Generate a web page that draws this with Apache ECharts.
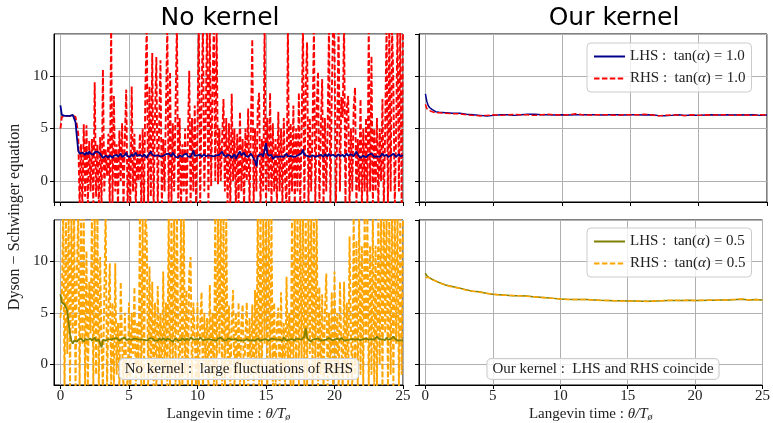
<!DOCTYPE html>
<html><head><meta charset="utf-8">
<script src="https://cdn.jsdelivr.net/npm/echarts@6/dist/echarts.min.js"></script>
<style>html,body{margin:0;padding:0;background:#fff}#c{width:773px;height:423px}</style>
</head><body><div id="c"></div>
<script>
// ---- DATA ----
const titles = ['No kernel', 'Our kernel'];
const yLabel = 'Dyson \u2212 Schwinger equation';
const xTicks = [0, 5, 10, 15, 20, 25];
const yTicks = [0, 5, 10];
// Left panels: Langevin time grid, step 0.1 from 0 to 25
const timeL = Array.from({length: 251}, (_, i) => +(i * 0.1).toFixed(1));
const lhsNoKernel10 = [
7.2,6.3,6.2,6.2,6.15,6.2,6.2,6.2,6.25,6.3,
6.2,5.6,4.2,2.9,2.6,2.55,2.7,2.6,2.5,2.75,
2.55,2.8,2.6,2.7,2.5,2.75,2.6,2.8,2.65,2.6,
2.55,2.2,2.35,2.4,2.25,2.2,2.45,2.3,2.2,2.4,
2.3,2.5,2.3,2.4,2.6,2.3,2.2,2.45,2.7,2.35,
2.4,2.3,2.55,2.35,2.5,2.7,2.4,2.3,2.5,2.35,
2.3,2.55,2.4,2.2,2.45,2.35,2.8,2.5,2.35,2.4,
2.3,2.45,2.6,2.35,2.2,2.4,2.3,2.55,2.4,2.6,
2.45,2.35,2.7,2.5,2.3,2.4,2.25,2.45,2.35,2.3,
2.5,2.4,2.6,2.35,2.45,2.3,2.55,2.9,2.4,2.3,
2.45,2.35,2.5,2.3,2.4,2.55,2.35,2.3,2.45,2.6,
2.4,2.3,2.35,2.5,2.45,2.3,2.5,2.4,2.8,2.5,
2.45,2.3,2.5,2.35,2.4,2.2,2.3,2.55,2.1,2.4,
2.5,2.8,2.45,2.6,2.7,2.4,2.5,2.3,2.45,2.6,
2.4,2.35,1.9,1.4,2.3,2.5,2.4,2.55,2.3,2.45,
3.6,2.6,2.4,2.3,2.5,2.1,2.0,2.35,2.4,2.3,
2.45,2.35,2.5,2.3,2.4,2.6,2.35,2.2,2.4,2.55,
2.3,2.45,2.35,2.2,2.5,2.4,2.65,3.0,2.5,2.6,
2.4,2.5,2.3,2.35,2.45,2.6,2.3,2.2,2.4,2.35,
2.5,2.45,2.3,2.55,2.4,2.35,2.6,2.4,2.3,2.5,
2.45,2.3,2.4,2.55,2.35,2.4,2.5,2.3,2.45,2.6,
2.4,2.3,2.55,2.45,2.35,2.6,2.8,2.5,2.35,2.2,
2.3,2.4,2.35,2.25,2.4,2.5,2.35,2.6,2.45,2.3,
2.4,2.35,2.5,2.3,2.45,2.6,2.4,2.35,2.5,2.3,
2.45,2.4,2.35,2.6,2.5,2.3,2.45,2.55,2.35,2.4,
2.45];
const rhsNoKernel10 = [
5.0,6.1,6.0,6.2,6.1,6.2,6.1,6.2,6.1,6.2,
6.2,6.1,6.0,4.5,-2.5,3.5,-2.5,5.4,-1.5,5.3,
-2.5,3.8,-1,4.0,-2.5,9.4,-1.5,3.5,-2.5,4.2,
-2.5,10.6,-1,3.0,0.5,4.5,-2.5,15,-2.5,8.1,
-1,3.5,-2.5,4.8,0,5.5,-2.5,4.0,8.7,-2.5,
2.5,-2.5,9.0,-1,4.5,-2.5,3.0,0,4.5,-2.5,
5.0,-2.5,8.7,15,-2.5,9.0,-1.5,12.2,-2.5,6.0,
11.8,-2.5,5.0,11.5,-2.5,4.0,-1,7.0,15,-2.5,
10.4,-2.5,5.5,-1,7.0,15,-2.5,6.0,-2.5,3.5,
-1,5.0,-2.5,4.0,10.5,-2.5,6.0,-1,7.2,-2.5,
5.0,15,-2.5,8.0,15,-1,6.0,15,-2.5,15,
-0.5,9.0,15,0,15,-0.3,5.0,0,4.0,7.8,
-1,6.0,-2.5,5.5,-2.5,8.3,0,5.0,-2.5,4.5,
-2.5,6.6,-1,4.0,-2.5,5.0,0,6.9,-2.5,5.0,
13.5,-2.5,5.0,-1,7.0,8.4,-2.5,4.0,-1,15,
-2.5,6.0,-1,8.4,-2.5,5.5,-1,4.0,-2.5,6.6,
-1,5.0,-2.5,6.0,0,-2.5,15,-2.5,5.5,-1,
7.2,-2.5,5.0,-1,8.4,-2.5,5.0,15,-2.5,9.0,
13.2,-2.5,6.0,-1,5.0,15,-2.5,7.0,10.4,-2.5,
5.0,9.7,-2.5,6.0,-1,5.0,15,-2.5,8.0,15,
13.5,-2.5,5.0,15,-1,8.0,6.0,15,-2.5,7.0,
8.1,-2.5,5.0,-1,7.0,8.9,-2.5,4.0,-1,7.8,
-2.5,5.0,-1,6.0,-2.5,15,-1,11.9,-2.5,5.0,
-1,6.0,-2.5,5.0,0,7.8,-2.5,5.0,15,-2.5,
15,-1,15,9.0,-2.5,5.0,15,-1,15,-2.5,
15];
const lhsNoKernel05 = [
6.8,6.0,5.9,5.8,5.8,5.2,4.0,2.9,2.3,2.0,
2.3,2.45,2.2,2.4,2.3,2.5,2.35,2.2,2.45,2.3,
2.4,2.25,2.5,2.3,2.45,2.6,2.3,2.2,2.4,2.35,
1.65,2.4,2.5,2.3,2.35,2.45,2.6,2.4,2.3,2.5,
2.35,2.55,2.4,2.3,2.45,2.5,2.4,2.6,2.35,2.3,
2.45,2.55,2.4,2.3,2.5,2.35,2.45,2.6,2.4,2.3,
2.4,2.5,2.35,2.45,2.3,2.55,2.4,2.5,2.35,2.3,
2.45,2.3,2.5,2.4,2.35,2.55,2.4,2.3,2.5,2.35,
2.4,2.3,2.2,2.35,2.5,2.4,2.3,2.45,2.35,2.55,
2.4,2.3,2.5,2.45,2.35,2.6,2.5,2.4,2.3,2.45,
2.5,2.4,2.6,2.45,2.35,2.5,2.4,2.3,2.45,2.55,
2.4,2.5,2.35,2.45,2.3,2.5,2.4,2.6,2.45,2.35,
2.4,2.3,2.5,2.35,2.45,2.6,2.4,2.3,2.45,2.35,
2.3,2.2,2.35,2.4,2.3,2.25,2.45,2.35,2.3,2.4,
2.35,2.45,2.3,2.4,2.5,2.35,2.3,2.45,2.4,2.3,
2.45,2.35,2.3,2.4,2.5,2.35,2.45,2.6,2.4,2.3,
2.4,2.35,2.3,2.6,2.45,2.3,2.2,2.4,2.35,2.45,
2.4,2.3,2.5,2.35,2.45,2.6,2.4,2.55,2.7,3.5,
2.6,2.4,2.35,2.2,2.4,2.3,2.45,2.35,2.5,2.4,
2.3,2.45,2.35,2.5,2.4,2.3,2.55,2.4,2.35,2.45,
2.4,2.3,2.5,2.4,2.35,2.6,2.45,2.3,2.4,2.35,
2.5,2.4,2.3,2.45,2.35,2.4,2.3,2.45,2.5,2.35,
2.4,2.45,2.3,2.5,2.35,2.4,2.3,2.45,2.6,2.4,
2.5,2.7,2.55,2.4,2.3,2.45,2.5,2.35,2.6,2.4,
2.35,2.45,2.6,2.7,2.5,2.4,2.3,2.45,2.35,2.2,
2.3];
const rhsNoKernel05 = [
4.5,6.0,15,-2.5,15,1,15,-2.5,15,3,
15,-2.5,9,15,-2.5,15,2,15,-2.5,11,
-2.5,8,3,15,-2.5,15,-1,15,-2.5,10.4,
2,-2.5,7,15,-2.5,5,9.8,-2,6,-2.5,
9.8,-1,4,-2.5,8.0,2,-2.5,5,0,-2.5,
6,-2.5,5,1,7.5,-2.5,4,-1,15,-2.5,
15,-2.5,15,12.4,-2.5,9.5,-1,8,-2.5,6,
-2.5,7.6,0,5,-2.5,9,-1,6,-2.5,15,
-2.5,15,-1,15,-2.5,15,2,-2.5,15,-2.5,
15,-1,7.2,-2.5,9,10.4,-2.5,6,3,-2.5,
6,-2.5,4,7,-2.5,5,0,4.5,-2.5,7.7,
-1,5,-2.5,15,-2.5,15,1,15,-2.5,15,
-2.5,15,-1,5.7,-2.5,4,7.2,-2.5,5,-1,
6,-2.5,4,5.8,-2.5,3,6,-2.5,4.5,-1,
5.8,-2.5,7.2,-1,15,-2.5,15,-2.5,15,2,
15,-2.5,15,-1,15,-2.5,6,-2.5,4,5.5,
-2.5,7.0,-1,4,-2.5,8.5,0,5,-2.5,15,
-2.5,15,-1,15,-2.5,15,0,15,-2.5,15,
-2.5,15,1,15,-2.5,15,-1,15,-2.5,7.5,
-1,6.8,-2.5,5,8.8,-2.5,5,-1,7,-2.5,
9,-1,5,-2.5,8.0,2,-2.5,8,-1,6,
-2.5,12.4,3,-2.5,15,-1,12,-2.5,15,-1,
11.5,-2.5,15,2,15,-2.5,11.5,-1,15,-2.5,
11.5,-2.5,15,0,15,-2.5,15,3,15,-2.5,
15,-1,15,-2.5,15,2,15,-2.5,15,-1,
15];
// Right panels: Langevin time samples
const timeR = [0,0.1,0.2,0.3,0.5,0.75,1,1.5,2,2.5,3,3.5,4,4.5,5,5.5,6,6.5,7,7.5,8,8.5,9,9.5,10,10.5,11,11.5,12,12.5,13,13.5,14,14.5,15,15.5,16,16.5,17,17.5,18,18.5,19,19.5,20,20.5,21,21.5,22,22.5,23,23.5,24,24.5,25];
const lhsKernel10 = [8.3,7.6,7.2,7.0,6.8,6.6,6.55,6.5,6.45,6.45,6.35,6.3,6.25,6.2,6.25,6.3,6.3,6.25,6.3,6.35,6.35,6.3,6.3,6.28,6.3,6.28,6.3,6.3,6.32,6.3,6.28,6.3,6.3,6.28,6.3,6.3,6.28,6.3,6.25,6.22,6.25,6.3,6.25,6.28,6.25,6.28,6.3,6.28,6.3,6.28,6.3,6.28,6.3,6.25,6.28];
const rhsKernel10 = [7.3,6.9,6.8,6.7,6.6,6.5,6.5,6.45,6.4,6.4,6.3,6.25,6.2,6.25,6.3,6.25,6.3,6.35,6.3,6.3,6.25,6.3,6.35,6.3,6.28,6.3,6.4,6.3,6.28,6.3,6.32,6.3,6.25,6.3,6.32,6.3,6.35,6.3,6.2,6.25,6.3,6.28,6.22,6.3,6.25,6.3,6.28,6.3,6.32,6.25,6.3,6.28,6.25,6.3,6.28];
const lhsKernel05 = [8.85,8.6,8.5,8.4,8.25,8.1,7.95,7.7,7.55,7.4,7.25,7.1,7.05,6.9,6.8,6.75,6.7,6.65,6.65,6.62,6.55,6.5,6.45,6.4,6.35,6.32,6.3,6.3,6.28,6.25,6.22,6.2,6.18,6.17,6.15,6.15,6.13,6.12,6.15,6.17,6.2,6.2,6.2,6.22,6.2,6.2,6.22,6.22,6.25,6.25,6.28,6.32,6.25,6.28,6.25];
const rhsKernel05 = [8.4,8.55,8.45,8.4,8.2,8.1,7.9,7.7,7.5,7.4,7.2,7.1,7.0,6.9,6.8,6.72,6.7,6.68,6.65,6.6,6.55,6.5,6.45,6.4,6.35,6.3,6.3,6.28,6.28,6.25,6.2,6.2,6.18,6.15,6.15,6.13,6.15,6.1,6.15,6.18,6.2,6.22,6.2,6.22,6.2,6.22,6.22,6.25,6.22,6.28,6.3,6.35,6.25,6.28,6.25];
const legendNames = ['LHS :  tan(\u03b1) = 1.0', 'RHS :  tan(\u03b1) = 1.0', 'LHS :  tan(\u03b1) = 0.5', 'RHS :  tan(\u03b1) = 0.5'];
const notes = ['No kernel :  large fluctuations of RHS', 'Our kernel :  LHS and RHS coincide'];

// ---- CHART ----
const SERIF = 'Liberation Serif';
const zip = (xs, ys) => xs.map((x, i) => [x, ys[i]]);
const grids = [
  {left: 54, top: 34, width: 349, height: 168},
  {left: 419, top: 34, width: 348, height: 168},
  {left: 54, top: 220, width: 349, height: 168},
  {left: 419, top: 220, width: 348, height: 168}
];
const xAxes = grids.map((g, i) => ({
  type: 'value', gridIndex: i, min: -0.47, max: 25, splitNumber: 5,
  axisLine: {show: true, onZero: false, lineStyle: {color: '#000', width: 1}},
  axisTick: {show: true, inside: false, length: 4, lineStyle: {color: '#000'}},
  axisLabel: {show: i >= 2, showMinLabel: false, showMaxLabel: true, color: '#222', fontFamily: SERIF, fontSize: 15, margin: 4},
  splitLine: {show: true, lineStyle: {color: '#b0b0b0', width: 1}},
  name: i >= 2 ? '{n|Langevin time : }{i|\u03b8/T}{s|\u00f8}' : '',
  nameLocation: 'middle', nameGap: 21,
  nameTextStyle: {rich: {
    n: {fontFamily: SERIF, fontSize: 15, color: '#222'},
    i: {fontFamily: SERIF, fontSize: 15, fontStyle: 'italic', color: '#222'},
    s: {fontFamily: SERIF, fontSize: 10, fontStyle: 'italic', color: '#222', verticalAlign: 'bottom', padding: [6, 0, 0, 0]}
  }}
}));
const yAxes = grids.map((g, i) => ({
  type: 'value', gridIndex: i, min: -2, max: 14, splitNumber: 3,
  axisLine: {show: true, onZero: false, lineStyle: {color: '#000', width: 1}},
  axisTick: {show: true, inside: false, length: 4, lineStyle: {color: '#000'}},
  axisLabel: {show: i % 2 === 0, showMinLabel: false, showMaxLabel: false, color: '#222', fontFamily: SERIF, fontSize: 15, margin: 6},
  splitLine: {show: true, lineStyle: {color: '#b0b0b0', width: 1}}
}));
const dash = [5.5, 2.4];
const mk = (name, idx, xs, ys, color, dashed, z, w) => ({
  type: 'line', name, xAxisIndex: idx, yAxisIndex: idx, data: zip(xs, ys),
  showSymbol: false, symbol: 'none', animation: false, clip: true, z,
  lineStyle: {color, width: w || 1.5, type: dashed ? dash : 'solid'},
  itemStyle: {color}
});
const series = [
  mk('RHS no kernel 1.0', 0, timeL, rhsNoKernel10, '#ff0000', true, 2, 1.9),
  mk('LHS no kernel 1.0', 0, timeL, lhsNoKernel10, '#00008b', false, 3, 1.8),
  mk(legendNames[0], 1, timeR, lhsKernel10, '#00008b', false, 2),
  mk(legendNames[1], 1, timeR, rhsKernel10, '#ff0000', true, 3),
  mk('RHS no kernel 0.5', 2, timeL, rhsNoKernel05, '#ffa500', true, 2, 1.9),
  mk('LHS no kernel 0.5', 2, timeL, lhsNoKernel05, '#808000', false, 3, 1.8),
  mk(legendNames[2], 3, timeR, lhsKernel05, '#808000', false, 2),
  mk(legendNames[3], 3, timeR, rhsKernel05, '#ffa500', true, 3)
];
const legendRich = {
  n: {fontFamily: SERIF, fontSize: 15, color: '#222'},
  i: {fontFamily: SERIF, fontSize: 15, fontStyle: 'italic', color: '#222'}
};
const legFmt = (name) => {
  const m = name.split('\u03b1');
  return '{n|' + m[0] + '}{i|\u03b1}{n|' + m[1] + '}';
};
const mkLegend = (top, names) => ({
  data: names, left: 587, top, orient: 'vertical',
  itemWidth: 31, itemHeight: 10, itemGap: 7,
  padding: [6, 6, 6, 6],
  backgroundColor: 'rgba(255,255,255,0.8)', borderColor: '#cccccc', borderWidth: 1, borderRadius: 4,
  itemStyle: {opacity: 0},
  formatter: legFmt, textStyle: {rich: legendRich}, selectedMode: false
});
const noteBox = (x, y, text) => ({
  type: 'text', x, y, z: 100,
  style: {text, font: '15px "' + SERIF + '"', fill: '#222',
    align: 'center', verticalAlign: 'middle', textAlign: 'center', textVerticalAlign: 'middle',
    backgroundColor: 'rgba(255,255,255,0.8)', borderColor: '#cccccc', borderWidth: 1, borderRadius: 4,
    padding: [3, 5, 2, 5]}
});
const option = {
  backgroundColor: '#fff',
  animation: false,
  grid: grids.map(g => Object.assign({show: true, borderColor: '#000', borderWidth: 1, backgroundColor: 'transparent'}, g)),
  xAxis: xAxes, yAxis: yAxes, series,
  legend: [mkLegend(43, legendNames.slice(0, 2)), mkLegend(228, legendNames.slice(2, 4))],
  graphic: [
    {type: 'text', x: 220, y: 18, style: {text: titles[0], font: '25px "DejaVu Sans"', fill: '#000', align: 'center', verticalAlign: 'middle', textAlign: 'center', textVerticalAlign: 'middle'}},
    {type: 'text', x: 614, y: 18, style: {text: titles[1], font: '25px "DejaVu Sans"', fill: '#000', align: 'center', verticalAlign: 'middle', textAlign: 'center', textVerticalAlign: 'middle'}},
    {type: 'text', x: 15, y: 217, rotation: Math.PI / 2, style: {text: yLabel, font: '16px "' + SERIF + '"', fill: '#222', align: 'center', verticalAlign: 'middle', textAlign: 'center', textVerticalAlign: 'middle'}},
    noteBox(239, 369, notes[0]),
    noteBox(603, 369, notes[1])
  ]
};
const chart = echarts.init(document.getElementById('c'), null, {renderer: 'canvas'});
chart.setOption(option);
</script></body></html>
